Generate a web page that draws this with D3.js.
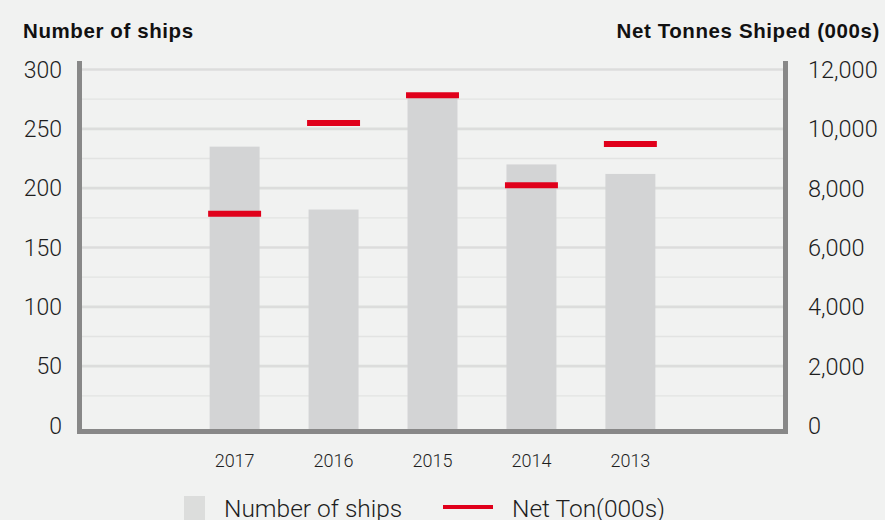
<!DOCTYPE html>
<html>
<head>
<meta charset="utf-8">
<script src="https://cdn.jsdelivr.net/npm/d3@7"></script>
<style>
  html, body { margin: 0; padding: 0; background: #f1f2f1; }
  svg { display: block; font-family: Roboto, "Liberation Sans", sans-serif; }
</style>
</head>
<body>
<svg id="chart" width="885" height="520"></svg>
<script>
// data
const years = ['2017', '2016', '2015', '2014', '2013'];
const ships = [235, 182, 276, 220, 212];
const netTons = [7140, 10200, 11130, 8100, 9490];
const shipTicks = [0, 50, 100, 150, 200, 250, 300];
const tonTicks = [0, 2000, 4000, 6000, 8000, 10000, 12000];

const W = 885, H = 520;
const plotLeft = 82, plotRight = 783, plotTop = 69.5, plotZero = 425.5;

const svg = d3.select('#chart');
svg.append('rect').attr('width', W).attr('height', H).attr('fill', '#f1f2f1');

const x = d3.scaleBand().domain(years).range([plotLeft, plotRight])
  .paddingInner(0.495).paddingOuter(1.29);
const yL = d3.scaleLinear().domain([0, 300]).range([plotZero, plotTop]);
const yR = d3.scaleLinear().domain([0, 12000]).range([plotZero, plotTop]);

// gridlines: major every 50, minor every 25
const minor = d3.range(25, 300, 50);
svg.append('g').selectAll('line.minor')
  .data(minor).enter().append('line')
  .attr('x1', plotLeft).attr('x2', plotRight)
  .attr('y1', d => yL(d)).attr('y2', d => yL(d))
  .attr('stroke', '#e2e3e2').attr('stroke-width', 1.3);
svg.append('g').selectAll('line.major')
  .data(shipTicks.filter(d => d > 0)).enter().append('line')
  .attr('x1', plotLeft).attr('x2', plotRight)
  .attr('y1', d => yL(d)).attr('y2', d => yL(d))
  .attr('stroke', '#dcdddc').attr('stroke-width', 2.6);

// bars
svg.append('g').selectAll('rect')
  .data(years).enter().append('rect')
  .attr('x', d => x(d))
  .attr('width', x.bandwidth())
  .attr('y', (d, i) => yL(ships[i]))
  .attr('height', (d, i) => 431 - yL(ships[i]))
  .attr('fill', '#d3d4d5');

// net tonnes markers
const ext = 1.5;
svg.append('g').selectAll('line')
  .data(years).enter().append('line')
  .attr('x1', d => x(d) - ext)
  .attr('x2', d => x(d) + x.bandwidth() + ext)
  .attr('y1', (d, i) => yR(netTons[i]))
  .attr('y2', (d, i) => yR(netTons[i]))
  .attr('stroke', '#e0001b').attr('stroke-width', 6);

// frame: left, bottom, right
const frame = svg.append('g').attr('stroke', '#888888').attr('stroke-width', 5).attr('fill', 'none');
frame.append('path')
  .attr('d', `M${plotLeft - 2.5},61 V${431.5} H${plotRight + 2.5} V61`);

// left axis labels
svg.append('g').selectAll('text')
  .data(shipTicks).enter().append('text')
  .attr('x', 62).attr('y', d => yL(d)).attr('dy', '0.36em')
  .attr('text-anchor', 'end')
  .attr('font-size', 23).attr('font-weight', 300).attr('fill', '#1e1e1e')
  .text(d => d);

// right axis labels
const fmt = d3.format(',');
svg.append('g').selectAll('text')
  .data(tonTicks).enter().append('text')
  .attr('x', 808).attr('y', d => yR(d)).attr('dy', '0.36em')
  .attr('text-anchor', 'start')
  .attr('font-size', 23.5).attr('font-weight', 300).attr('fill', '#1e1e1e')
  .text(d => fmt(d));

// year labels
svg.append('g').selectAll('text')
  .data(years).enter().append('text')
  .attr('x', d => x(d) + x.bandwidth() / 2).attr('y', 467)
  .attr('text-anchor', 'middle')
  .attr('font-size', 18).attr('font-weight', 300).attr('fill', '#1e1e1e')
  .text(d => d);

// axis titles
svg.append('text').attr('x', 23).attr('y', 38)
  .attr('font-family', '"Liberation Sans", Arial, sans-serif')
  .attr('font-size', 20.5).attr('font-weight', 700).attr('letter-spacing', 0.6).attr('fill', '#111')
  .text('Number of ships');
svg.append('text').attr('x', 880).attr('y', 38).attr('text-anchor', 'end')
  .attr('font-family', '"Liberation Sans", Arial, sans-serif')
  .attr('font-size', 20.5).attr('font-weight', 700).attr('letter-spacing', 0.6).attr('fill', '#111')
  .text('Net Tonnes Shiped (000s)');

// legend
svg.append('rect').attr('x', 184).attr('y', 496).attr('width', 21).attr('height', 24).attr('fill', '#dcdddc');
svg.append('text').attr('x', 224).attr('y', 517)
  .attr('font-size', 24.5).attr('font-weight', 300).attr('fill', '#1e1e1e')
  .text('Number of ships');
svg.append('line').attr('x1', 443).attr('x2', 493).attr('y1', 507).attr('y2', 507)
  .attr('stroke', '#e0001b').attr('stroke-width', 4);
svg.append('text').attr('x', 512).attr('y', 517)
  .attr('font-size', 24.5).attr('font-weight', 300).attr('fill', '#1e1e1e')
  .text('Net Ton(000s)');
</script>
</body>
</html>
